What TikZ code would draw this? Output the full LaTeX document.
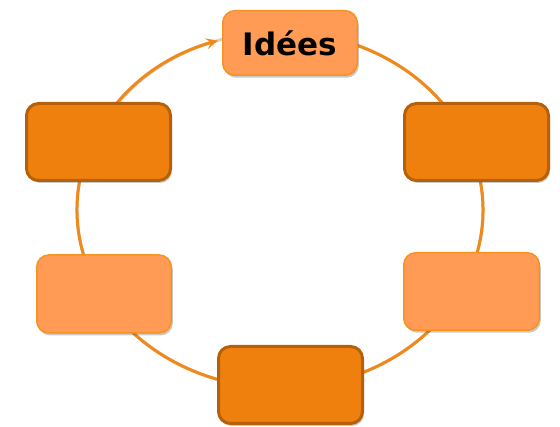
\documentclass[tikz,border=0pt]{standalone}
\usepackage{fontspec}
\setmainfont{DejaVu Sans}
\usetikzlibrary{shadows,arrows.meta}

\definecolor{ringcol}{HTML}{F0881A}
\definecolor{darkfill}{HTML}{F0800E}
\definecolor{darkline}{HTML}{B5610B}
\definecolor{lightfill}{HTML}{FF9B55}
\definecolor{lightline}{HTML}{F79220}

\tikzset{
  box/.style={rectangle, rounded corners=12pt, minimum width=144pt, minimum height=77pt,
    drop shadow={shadow xshift=1.5pt, shadow yshift=-2.5pt, opacity=0.3, fill=black!70}},
  darkbox/.style={box, fill=darkfill, draw=darkline, line width=3pt},
  lightbox/.style={box, fill=lightfill, draw=lightline, line width=1.5pt,
    minimum width=134.5pt, minimum height=78pt},
  ring/.style={draw=ringcol, line width=3pt},
}

\begin{document}
\begin{tikzpicture}[x=1pt, y=1pt]
        \useasboundingbox (0,0) rectangle (560,427);

        % ring
        \coordinate (c) at (280,217);
        \coordinate (ringstart) at ([shift={(100:203 and 178)}]c);
        \draw[gray!35, line width=3pt, shift={(1.5pt,-2pt)}] (c) ellipse [x radius=203, y radius=178];
        \draw[ring, -{Stealth[length=12pt, width=11pt, inset=5pt]}] (ringstart) arc [start angle=100, end angle=-252.2, x radius=203, y radius=178];

        % steps
        \node[lightbox, minimum height=64.5pt] (idees) at (290,384) {\fontsize{31}{36}\selectfont\bfseries Idées};
        \node[darkbox] (tl) at (98.5,285) {};
        \node[darkbox] (tr) at (476.5,285) {};
        \node[lightbox, minimum width=134.5pt] (ml) at (104,133) {};
        \node[lightbox, minimum width=135.5pt, minimum height=77.5pt] (mr) at (471.5,135.5) {};
        \node[darkbox] (bot) at (290.5,42) {};
\end{tikzpicture}
\end{document}
